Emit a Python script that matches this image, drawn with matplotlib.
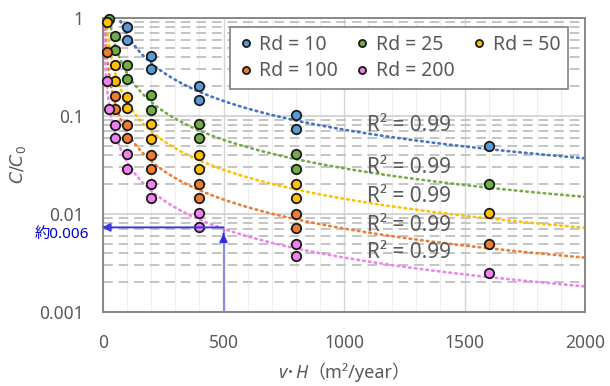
import numpy as np
import matplotlib
matplotlib.use("Agg")
import matplotlib.pyplot as plt
from matplotlib.ticker import LogLocator, FixedLocator, NullFormatter
from matplotlib.offsetbox import TextArea, HPacker, AnchoredOffsetbox

plt.rcParams['font.family'] = ['Noto Sans', 'Noto Sans CJK JP', 'DejaVu Sans']

# --- data ---
labels = ['Rd = 10', 'Rd = 25', 'Rd = 50', 'Rd = 100', 'Rd = 200']
marker_colors = ['#5B9BD5', '#70AD47', '#FFC000', '#ED7D31', '#EE82EE']
line_colors = ['#4472C4', '#70AD47', '#FFC000', '#ED7D31', '#EE82EE']

x_rd10 = [100, 100, 200, 200, 400, 400, 800, 800, 1600]
c_rd10 = [0.81, 0.59, 0.41, 0.30, 0.20, 0.145, 0.102, 0.074, 0.050]

x_rd25 = [25, 50, 50, 100, 100, 200, 200, 400, 400, 800, 800, 1600]
c_rd25 = [0.97, 0.65, 0.47, 0.33, 0.24, 0.163, 0.115, 0.083, 0.060, 0.041, 0.029, 0.020]

x_rd50 = [15, 50, 50, 100, 100, 200, 200, 400, 400, 800, 800, 1600]
c_rd50 = [0.92, 0.33, 0.23, 0.158, 0.12, 0.083, 0.058, 0.040, 0.029, 0.020, 0.0146, 0.0102]

x_rd100 = [15, 50, 50, 100, 100, 200, 200, 400, 400, 800, 800, 1600]
c_rd100 = [0.45, 0.16, 0.118, 0.081, 0.059, 0.040, 0.029, 0.020, 0.0146, 0.0100, 0.0072, 0.0050]

x_rd200 = [15, 25, 50, 50, 100, 100, 200, 200, 400, 400, 800, 800, 1600]
c_rd200 = [0.23, 0.118, 0.081, 0.059, 0.041, 0.029, 0.020, 0.0145, 0.0102, 0.0074, 0.0049, 0.0037, 0.0025]

xs = [x_rd10, x_rd25, x_rd50, x_rd100, x_rd200]
cs = [c_rd10, c_rd25, c_rd50, c_rd100, c_rd200]

r2_text = ['R² = 0.99'] * 5
r2_x = [1095] * 5
r2_y = [0.080, 0.030, 0.0150, 0.0077, 0.0040]

yticks = [1, 0.1, 0.01, 0.001]
ytick_labels = ['1', '0.1', '0.01', '0.001']
xticks = [0, 500, 1000, 1500, 2000]

read_x = 500
read_c = 0.0073

# --- figure ---
fig = plt.figure(figsize=(6.1, 3.86), dpi=100)
ax = fig.add_axes([103/610, 1-312/386, 482/610, 294/386])
ax.set_yscale('log')
ax.set_xlim(0, 2000)
ax.set_ylim(0.001, 1)

ax.set_xticks(xticks)
ax.xaxis.set_minor_locator(FixedLocator(np.arange(0, 2001, 100)))
ax.yaxis.set_major_locator(FixedLocator(yticks))
ax.yaxis.set_minor_locator(LogLocator(base=10, subs=np.arange(2, 10)))
ax.yaxis.set_minor_formatter(NullFormatter())
ax.set_yticklabels(ytick_labels)

ax.set_axisbelow(True)
ax.xaxis.grid(True, which='major', color='#D4D4D4', lw=1.0)
ax.xaxis.grid(True, which='minor', color='#EEEEEE', lw=0.8)
ax.yaxis.grid(True, which='major', color='#CFCFCF', lw=1.2)
ax.yaxis.grid(True, which='minor', color='#C4C4C4', lw=1.4, ls=(0, (5, 3)))

ax.tick_params(which='both', length=0)
ax.tick_params(axis='y', pad=14, labelsize=12.5, labelcolor='#595959')
ax.tick_params(axis='x', pad=16, labelsize=12.5, labelcolor='#595959')
for sp in ax.spines.values():
    sp.set_color('#808080')
    sp.set_linewidth(1.3)

xfit = np.linspace(0.5, 2000, 2000)
for x, c, lc in zip(xs, cs, line_colors):
    b, a = np.polyfit(np.log(x), np.log(c), 1)
    ax.plot(xfit, np.exp(a) * xfit ** b, color=lc, lw=1.9,
            ls=(0, (0.6, 1.6)), dash_capstyle='round', zorder=2)
handles = []
for x, c, mc, lab in zip(xs, cs, marker_colors, labels):
    h, = ax.plot(x, c, 'o', ls='none', mfc=mc, mec='#1a1a1a', mew=1.3, ms=6.8,
                 zorder=3, clip_on=False, label=lab)
    handles.append(h)

for t, tx, ty in zip(r2_text, r2_x, r2_y):
    ax.text(tx, ty, t, fontsize=15, color='#595959', va='center', ha='left', zorder=4)

# reading arrows
ax.plot([read_x, read_x], [0.001, read_c * 0.93], color='#8C8CE6', lw=1.6, zorder=4)
ax.annotate('', xy=(read_x, read_c * 0.92), xytext=(read_x, read_c * 0.8),
            arrowprops=dict(arrowstyle='-|>', color='#2E2EE0', lw=1.2,
                            mutation_scale=12), zorder=5)
ax.annotate('', xy=(-5, read_c), xytext=(read_x, read_c),
            arrowprops=dict(arrowstyle='-|>', color='#3A3AE0', lw=1.4,
                            mutation_scale=12, shrinkA=0, shrinkB=0),
            annotation_clip=False, zorder=5)
fig.text(62/610, 1-234/386, '約0.006', color='#0000CC', fontsize=11,
         ha='center', va='center')

# legend filled row by row (matplotlib fills by column)
order = [0, 3, 1, 4, 2]
leg = ax.legend([handles[i] for i in order], [labels[i] for i in order],
                loc='upper right', bbox_to_anchor=(0.965, 0.97), ncol=3,
                fontsize=14, frameon=True, fancybox=False, framealpha=1,
                edgecolor='#808080', markerscale=0.75, handletextpad=0.3,
                columnspacing=0.85, handlelength=0.8, borderpad=0.4,
                labelspacing=0.35, borderaxespad=0)
leg.get_frame().set_linewidth(1.2)
for t in leg.get_texts():
    t.set_color('#595959')

# x label in pieces: italic v and H, CJK punctuation
tp = dict(fontsize=13, color='#595959')
tpi = dict(fontsize=13, color='#595959', style='italic')
pieces = [TextArea('v', textprops=tpi), TextArea('･', textprops=tp),
          TextArea('H', textprops=tpi), TextArea('（m²/year）', textprops=tp)]
box = HPacker(children=pieces, align='baseline', pad=0, sep=0)
anch = AnchoredOffsetbox(loc='center', child=box, frameon=False,
                         bbox_to_anchor=(344/610, 1-372/386),
                         bbox_transform=fig.transFigure, borderpad=0, pad=0)
fig.add_artist(anch)

ax.set_ylabel(r'$C/C_0$', fontsize=12.5, color='#595959', labelpad=8)

fig.savefig('out.png', dpi=100)
